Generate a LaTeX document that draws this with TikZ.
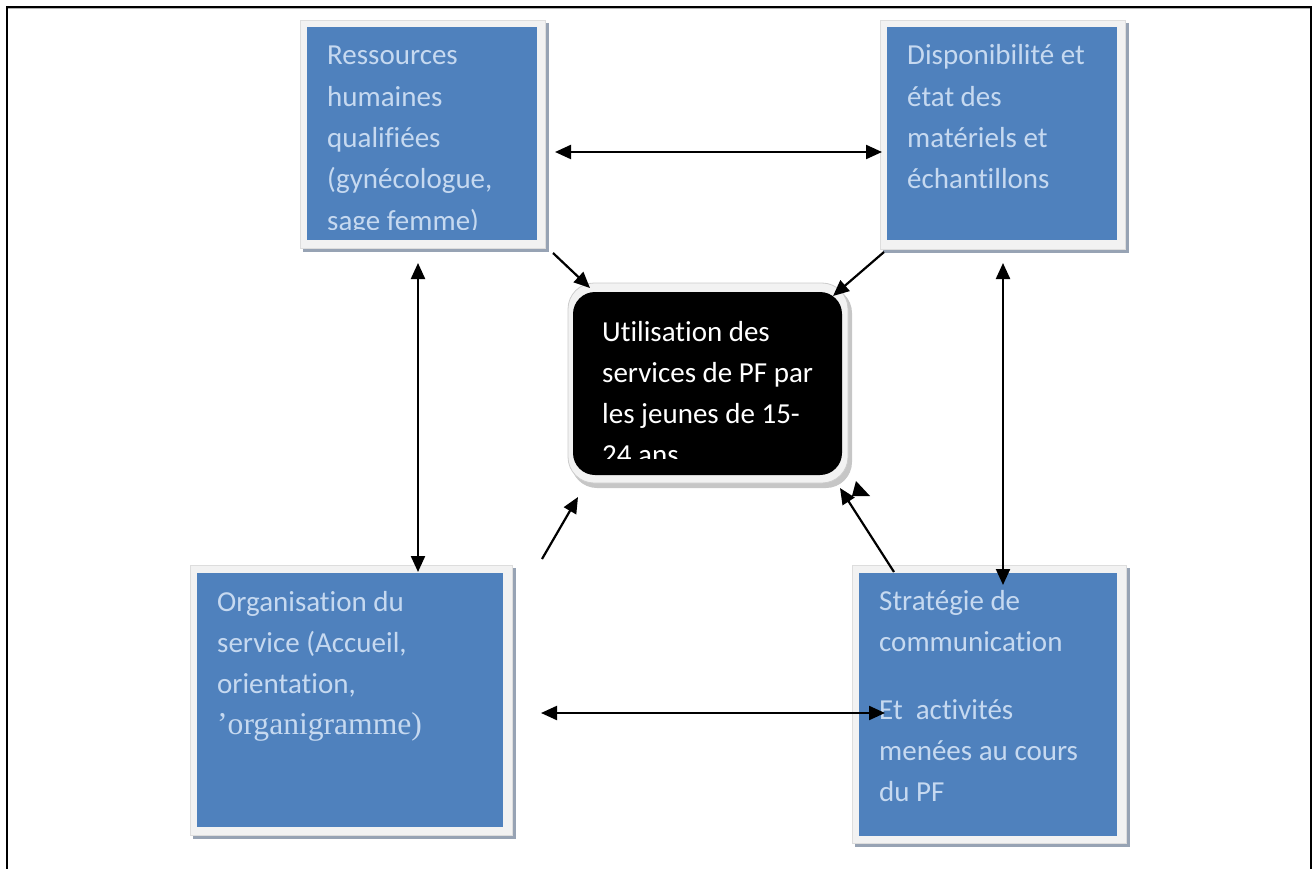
\documentclass[tikz,border=0pt]{standalone}
\usepackage{fontspec}
\setmainfont{Carlito}[Ligatures={NoCommon,NoContextual,NoRequired}]
\newfontfamily\tnrfont{Liberation Serif}
\usetikzlibrary{arrows.meta}
\definecolor{boxblue}{HTML}{4F81BD}
\definecolor{boxtext}{HTML}{C6D9F0}
\definecolor{framegray}{HTML}{F2F2F2}
\definecolor{frameedge}{HTML}{DDDDDD}
\definecolor{shadowgray}{HTML}{97A3B4}
\newcommand{\boxlines}[1]{\parbox[t]{400pt}{\raggedright\fontsize{29}{41.3}\selectfont #1}}
\begin{document}
\begin{tikzpicture}[x=1pt,y=-1pt,
  bluebox/.style={fill=boxblue, draw=none, inner sep=0pt},
  boxtxt/.style={anchor=base west, inner sep=0pt, text=boxtext},
  centertxt/.style={anchor=base west, inner sep=0pt, text=white},
  twoway/.style={line width=2.2pt, {Triangle[length=16pt,width=14pt]}-{Triangle[length=16pt,width=14pt]}},
  oneway/.style={line width=2.2pt, -{Triangle[length=16pt,width=14pt]}}]
\useasboundingbox (0,0) rectangle (1313,869);
% page frame
\draw[line width=2pt] (7,869) -- (7,7) -- (1311,7) -- (1311,869);
\draw[gray!60, line width=0.6pt] (8,8.6) -- (1310,8.6);

% frames and shadows
\fill[shadowgray] (303,23) rectangle (549,252);
\filldraw[fill=framegray, draw=frameedge, line width=0.5pt] (300,20) rectangle (545,248);
\fill[shadowgray] (883,23) rectangle (1129,253);
\filldraw[fill=framegray, draw=frameedge, line width=0.5pt] (880,20) rectangle (1125,249);
\fill[shadowgray] (193,568) rectangle (516,839);
\filldraw[fill=framegray, draw=frameedge, line width=0.5pt] (190,565) rectangle (512,835);
\fill[shadowgray] (855,568) rectangle (1130,847);
\filldraw[fill=framegray, draw=frameedge, line width=0.5pt] (852,565) rectangle (1126,843);

% blue boxes
\node[bluebox, minimum width=230pt, minimum height=213pt] (rh) at (422,133.5) {};
\node[bluebox, minimum width=230pt, minimum height=213pt] (dm) at (1002,133.5) {};
\node[bluebox, minimum width=306pt, minimum height=254pt] (os) at (350,700) {};
\node[bluebox, minimum width=258pt, minimum height=263pt] (sc) at (988,704.5) {};

% centre box
\fill[gray!45, rounded corners=26pt] (571,287) rectangle (852,488);
\filldraw[fill=framegray, draw=gray!40, line width=0.8pt, rounded corners=26pt] (568,283) rectangle (848,483);
\node[fill=black, draw=none, inner sep=0pt, rounded corners=22pt,
      minimum width=269pt, minimum height=183pt] (up) at (707.5,383.5) {};

% texts
\begin{scope}
\clip (307,27) rectangle (537,229);
\node[boxtxt] (rhtext) at (327,65) {\boxlines{Ressources\\humaines\\qualifiées\\(gynécologue,\\sage femme)}};
\end{scope}
\node[boxtxt] (dmtext) at (907,65) {\boxlines{Disponibilité et\\état des\\matériels et\\échantillons}};
\node[boxtxt] (ostext) at (217,611) {\boxlines{Organisation du\\service (Accueil,\\orientation,\\{\tnrfont\fontsize{31.6}{41.3}\selectfont ’organigramme)}}};
\node[boxtxt] (sctext) at (879,610) {\boxlines{Stratégie de\\communication\\[26.5pt]Et\ \ activités\\menées au cours\\du PF}};
\begin{scope}
\clip (573,292) rectangle (842,458);
\node[centertxt] (uptext) at (602,341) {\boxlines{Utilisation des\\services de PF par\\les jeunes de 15-\\24 ans}};
\end{scope}

% connector end points
\coordinate (a1l) at (555,152);  \coordinate (a1r) at (882,152);
\coordinate (a2t) at (418,263);  \coordinate (a2b) at (418,572);
\coordinate (a3t) at (1003,263); \coordinate (a3b) at (1003,585);
\coordinate (a4l) at (541,713);  \coordinate (a4r) at (885,713);
\coordinate (a5s) at (553,253);  \coordinate (a5e) at (590,288);
\coordinate (a6s) at (884,252);  \coordinate (a6e) at (833,296);
\coordinate (a7s) at (542,559);  \coordinate (a7e) at (578,497);
\coordinate (a8s) at (894,572);  \coordinate (a8e) at (840,488);

% connectors
\draw[twoway] (a1l) -- (a1r);
\draw[twoway] (a2t) -- (a2b);
\draw[twoway] (a3t) -- (a3b);
\draw[twoway] (a4l) -- (a4r);
\draw[oneway] (a5s) -- (a5e);
\draw[oneway] (a6s) -- (a6e);
\draw[oneway] (a7s) -- (a7e);
\draw[oneway] (a8s) -- (a8e);
\fill (856,481) -- (870,496) -- (852,496) -- cycle;
\end{tikzpicture}
\end{document}
